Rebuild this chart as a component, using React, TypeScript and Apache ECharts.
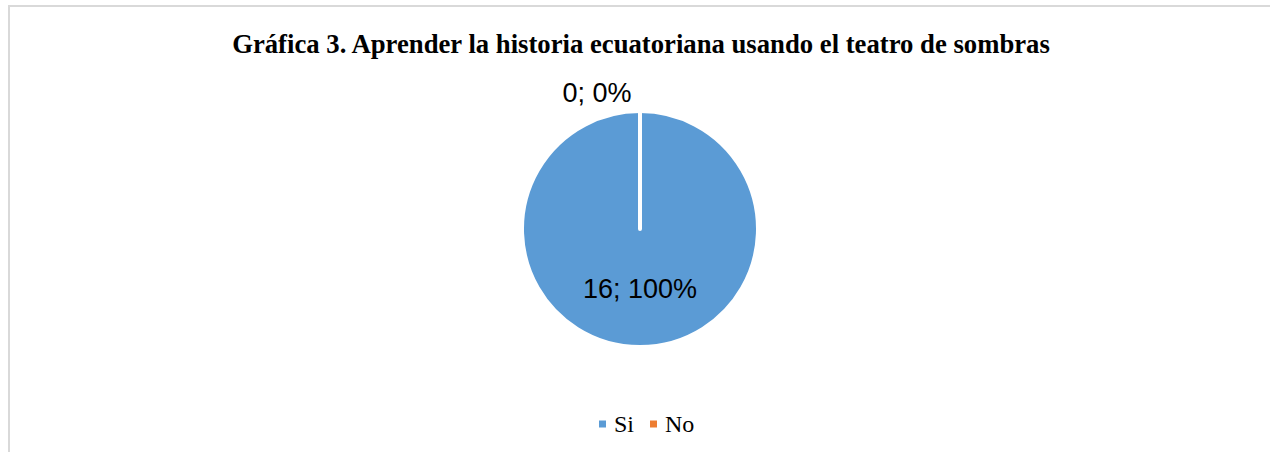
import React, { useEffect, useRef } from "react";
import * as echarts from "echarts";

const titleText = "Gráfica 3. Aprender la historia ecuatoriana usando el teatro de sombras";
const categories = ["Si", "No"];
const values = [16, 0];
const colors = ["#5b9bd5", "#ed7d31"];

export default function App() {
  const ref = useRef<HTMLDivElement>(null);
  useEffect(() => {
    if (!ref.current) return;
    const chart = echarts.init(ref.current, undefined, { renderer: "svg" });
    chart.setOption({
      animation: false,
      backgroundColor: "#ffffff",
      title: {
        text: titleText,
        left: 636,
        textAlign: "center",
        top: 25,
        textStyle: {
          fontFamily: "Liberation Serif",
          fontWeight: "bold",
          fontSize: 26.7,
          color: "#000000",
        },
      },
      graphic: [
        {
          type: "rect",
          shape: { x: 9, y: 6, width: 1300, height: 500 },
          style: { fill: "none", stroke: "#d9d9d9", lineWidth: 2 },
          silent: true,
        },
      ],
      legend: {
        left: 594,
        top: 407,
        itemWidth: 7,
        itemHeight: 7,
        itemGap: 16,
        icon: "rect",
        data: categories,
        itemStyle: { borderWidth: 0 },
        textStyle: {
          fontFamily: "Liberation Serif",
          fontSize: 24,
          color: "#000000",
          padding: [0, 0, 0, 3],
        },
      },
      series: [
        {
          type: "pie",
          center: [640, 229],
          radius: 118,
          startAngle: 90,
          clockwise: true,
          avoidLabelOverlap: false,
          minShowLabelAngle: 0,
          itemStyle: { borderColor: "#ffffff", borderWidth: 4 },
          label: {
            show: true,
            position: "inside",
            fontFamily: "Liberation Sans",
            fontSize: 27,
            color: "#000000",
            formatter: (p: any) => `${p.value}; ${Math.round(p.percent)}%`,
          },
          labelLine: { show: false },
          labelLayout: (p: any) =>
            p.dataIndex === 1 ? { dx: -43, dy: -74 } : { dy: -2 },
          emphasis: { disabled: true },
          data: categories.map((name, i) => ({
            name,
            value: values[i],
            itemStyle: { color: colors[i] },
          })),
        },
      ],
    });
    return () => chart.dispose();
  }, []);
  return (
    <div
      ref={ref}
      style={{ position: "absolute", left: 0, top: 0, width: 1270, height: 452 }}
    />
  );
}
